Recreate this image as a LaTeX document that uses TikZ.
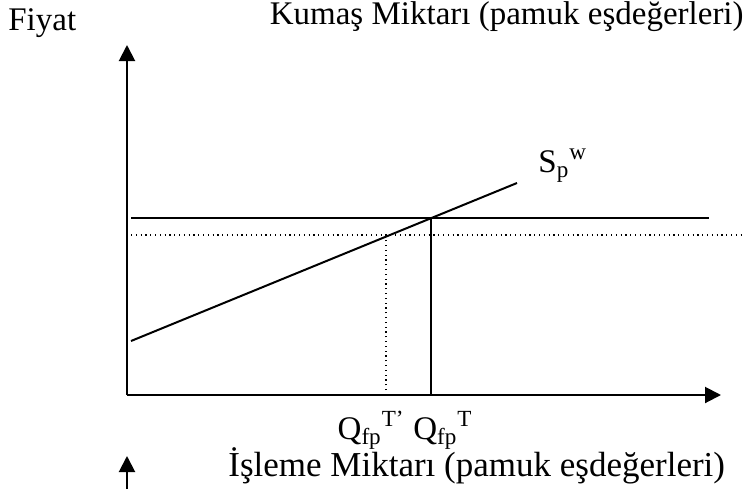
\documentclass[tikz,border=0pt]{standalone}
\usepackage{fontspec}
\setmainfont{Liberation Serif}
\usetikzlibrary{arrows.meta,positioning}

\begin{document}
\begin{tikzpicture}[x=0.5pt,y=-0.5pt,
  axis/.style={line width=1pt,-{Triangle[length=8pt,width=8pt]}},
  curve/.style={line width=1pt},
  guide/.style={line width=0.6pt,dash pattern=on 0.6pt off 1.8pt},
  lbl/.style={inner sep=0pt,font=\fontsize{16.5}{19}\selectfont}]
  \useasboundingbox (0,0) rectangle (745,489);
  % Axes
  \coordinate (O) at (127,395);
  \coordinate (ytop) at (127,45);
  \coordinate (xend) at (721,395);
  \draw[axis] (O) -- (ytop);
  \draw[axis] (O) -- (xend);
  % Supply curve
  \coordinate (s0) at (131,341);
  \coordinate (s1) at (517,183);
  \draw[curve] (s0) -- (s1);
  % World price and tariff price
  \coordinate (p0) at (131,218);
  \coordinate (p1) at (709,218);
  \draw[curve] (p0) -- (p1);
  \coordinate (d0) at (131,235);
  \coordinate (d1) at (745,235);
  \draw[guide] (d0) -- (d1);
  % Quantities
  \coordinate (qT) at (431,395);
  \coordinate (qTtop) at (431,218);
  \draw[curve] (qT) -- (qTtop);
  \coordinate (qTb) at (386,395);
  \coordinate (qTbtop) at (386,235);
  \draw[guide] (qTb) -- (qTbtop);
  % Lower arrow
  \coordinate (b0) at (127,489);
  \coordinate (b1) at (127,456);
  \draw[axis] (b0) -- (b1);
  % Labels
  \node[lbl,anchor=base west] (fiyat) at (8,30) {Fiyat};
  \node[lbl,anchor=base east] (kumas) at (744,24) {Kumaş Miktarı (pamuk eşdeğerleri)};
  \node[lbl,anchor=base west,font=\fontsize{17.5}{20}\selectfont] (isleme) at (228,476) {İşleme Miktarı (pamuk eşdeğerleri)};
  \node[lbl,anchor=base west] (spw) at (538,172) {S\textsubscript{p}\textsuperscript{w}};
  \node[lbl,anchor=base east] (qTblbl) at (405,439) {Q\textsubscript{fp}\textsuperscript{T’}};
  \node[lbl,anchor=base west] (qTlbl) at (413,439) {Q\textsubscript{fp}\textsuperscript{T}};
\end{tikzpicture}
\end{document}
